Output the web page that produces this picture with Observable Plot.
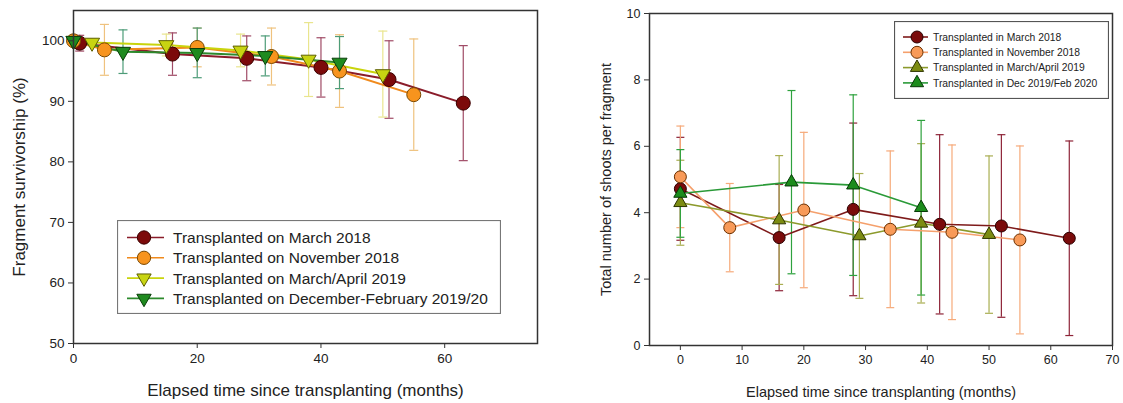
<!DOCTYPE html>
<html>
<head>
<meta charset="utf-8">
<script src="https://cdn.jsdelivr.net/npm/d3@7"></script>
<script src="https://cdn.jsdelivr.net/npm/@observablehq/plot@0.6"></script>
<style>
  html, body { margin: 0; padding: 0; background: #fff; }
  #wrap { position: relative; width: 1123px; height: 403px; overflow: hidden; background: #fff; font-family: "Liberation Sans", Arial, sans-serif; }
  #left, #right { position: absolute; top: 0; }
  #left { left: 0; }
  #right { left: 560px; }
  .legend { position: absolute; background: #fff; }
</style>
</head>
<body>
<div id="wrap">
  <div id="left"></div>
  <div id="right"></div>
</div>
<script>
// ---------------- Left panel: fragment survivorship (%) ----------------
const seriesLeft = ["Transplanted on March 2018", "Transplanted on November 2018", "Transplanted on March/April 2019", "Transplanted on December-February 2019/20"];
const survMar18Months = [1, 16, 28, 40, 51, 63];
const survMar18Values = [99.6, 97.8, 97.1, 95.6, 93.6, 89.7];
const survMar18Err    = [1.3, 3.5, 3.7, 4.9, 6.4, 9.5];
const survNov18Months = [0, 5, 20, 32, 43, 55];
const survNov18Values = [100, 98.5, 98.9, 97.4, 95.0, 91.1];
const survNov18Err    = [0, 4.2, 3.2, 4.7, 6.0, 9.2];
const survMar19Months = [0, 3, 15, 27, 38, 50];
const survMar19Values = [100, 99.7, 99.3, 98.4, 96.9, 94.5];
const survMar19Err    = [0, 0.6, 1.8, 2.7, 6.1, 7.1];
const survDec19Months = [0, 8, 20, 31, 43];
const survDec19Values = [100, 98.2, 98.0, 97.5, 96.4];
const survDec19Err    = [0, 3.6, 4.1, 3.3, 4.3];
const leftXTicks = [0, 20, 40, 60];
const leftYTicks = [50, 60, 70, 80, 90, 100];

// ---------------- Right panel: shoots per fragment ----------------
const seriesRight = ["Transplanted in March 2018", "Transplanted in November 2018", "Transplanted in March/April 2019", "Transplanted in Dec 2019/Feb 2020"];
const shootMar18Months = [0, 16, 28, 42, 52, 63];
const shootMar18Values = [4.72, 3.25, 4.10, 3.65, 3.60, 3.23];
const shootMar18Err    = [1.55, 1.6, 2.6, 2.7, 2.75, 2.93];
const shootNov18Months = [0, 8, 20, 34, 44, 55];
const shootNov18Values = [5.08, 3.55, 4.08, 3.50, 3.41, 3.18];
const shootNov18Err    = [1.53, 1.33, 2.34, 2.36, 2.63, 2.83];
const shootMar19Months = [0, 16, 29, 39, 50];
const shootMar19Values = [4.30, 3.78, 3.30, 3.68, 3.34];
const shootMar19Err    = [1.28, 1.94, 1.88, 2.40, 2.37];
const shootDec19Months = [0, 18, 28, 39];
const shootDec19Values = [4.58, 4.92, 4.83, 4.15];
const shootDec19Err    = [1.32, 2.76, 2.72, 2.63];
const rightXTicks = [0, 10, 20, 30, 40, 50, 60, 70];
const rightYTicks = [0, 2, 4, 6, 8, 10];

function rows(months, values, errs) {
  return months.map((m, i) => ({m, v: values[i], e: errs[i]}));
}

const capSymbol = (hw) => ({ draw(ctx) { ctx.moveTo(-hw, 0); ctx.lineTo(hw, 0); } });

const FONT = '"Liberation Sans", Arial, sans-serif';

function seriesMarks(data, st, capHW) {
  const withErr = data.filter(d => d.e > 0);
  return [
    Plot.ruleX(withErr, {x: "m", y1: d => d.v - d.e, y2: d => d.v + d.e, stroke: st.err, strokeWidth: 1.2}),
    Plot.dot(withErr, {x: "m", y: d => d.v + d.e, symbol: capSymbol(capHW), r: 1, stroke: st.err, strokeWidth: 1.2, fill: "none"}),
    Plot.dot(withErr, {x: "m", y: d => d.v - d.e, symbol: capSymbol(capHW), r: 1, stroke: st.err, strokeWidth: 1.2, fill: "none"})
  ];
}
function seriesLine(data, st) {
  return Plot.line(data, {x: "m", y: "v", stroke: st.line, strokeWidth: st.lw || 2});
}
function seriesDots(data, st) {
  return Plot.dot(data, {x: "m", y: "v", symbol: st.symbol, rotate: st.rotate || 0, r: st.r, fill: st.fill, stroke: st.stroke, strokeWidth: 1});
}

// ---- left styles
const stL = [
  {line: "#8a1c2a", err: "#a04b66", fill: "#7c0a0a", stroke: "#3a0000", symbol: "circle", r: 7},
  {line: "#f08a1c", err: "#efc27e", fill: "#f7941e", stroke: "#7a4800", symbol: "circle", r: 7},
  {line: "#c9d40c", err: "#e9e58e", fill: "#c8d412", stroke: "#5e6000", symbol: "triangle", rotate: 180, r: 5.6},
  {line: "#2c8a2c", err: "#4d9c78", fill: "#1f8a1f", stroke: "#0a3f0a", symbol: "triangle", rotate: 180, r: 5.6}
];
const dataL = [
  rows(survMar18Months, survMar18Values, survMar18Err),
  rows(survNov18Months, survNov18Values, survNov18Err),
  rows(survMar19Months, survMar19Values, survMar19Err),
  rows(survDec19Months, survDec19Values, survDec19Err)
];

const left = Plot.plot({
  width: 560, height: 403,
  marginLeft: 73, marginRight: 23, marginTop: 10, marginBottom: 60,
  style: {fontFamily: FONT, fontSize: "13.5px", color: "#222", background: "white"},
  x: {domain: [0, 75]},
  y: {domain: [50, 105]},
  marks: [
    ...dataL.flatMap((d, i) => seriesMarks(d, stL[i], 4.5)),
    ...dataL.map((d, i) => seriesLine(d, stL[i])),
    ...dataL.map((d, i) => seriesDots(d, stL[i])),
    Plot.frame({stroke: "#333", strokeWidth: 1.5}),
    Plot.axisX({ticks: leftXTicks, tickSize: 5, tickPadding: 5, label: null, stroke: "#333"}),
    Plot.axisY({ticks: leftYTicks, tickSize: 5, tickPadding: 4, label: null, stroke: "#333"}),
    Plot.text(["Elapsed time since transplanting (months)"], {text: d => d, frameAnchor: "bottom", textAnchor: "middle", lineAnchor: "middle", dy: 47, fontSize: 17, fill: "#222"}),
    Plot.text(["Fragment survivorship (%)"], {text: d => d, frameAnchor: "left", textAnchor: "middle", lineAnchor: "middle", rotate: -90, dx: -54, fontSize: 17, fill: "#222"})
  ]
});
document.getElementById("left").appendChild(left);

// ---- right styles
const stR = [
  {line: "#7e1a1a", err: "#8e2438", fill: "#7a0b0b", stroke: "#2a0000", symbol: "circle", r: 6, lw: 1.6},
  {line: "#f5a06c", err: "#f6aa7a", fill: "#f89a58", stroke: "#6a3000", symbol: "circle", r: 6, lw: 1.6},
  {line: "#8c9a2c", err: "#a9ae52", fill: "#7c8c12", stroke: "#2e3400", symbol: "triangle", r: 4.9, lw: 1.6},
  {line: "#2a9a38", err: "#2ea23e", fill: "#1c8c1c", stroke: "#063806", symbol: "triangle", r: 4.9, lw: 1.6}
];
const dataR = [
  rows(shootMar18Months, shootMar18Values, shootMar18Err),
  rows(shootNov18Months, shootNov18Values, shootNov18Err),
  rows(shootMar19Months, shootMar19Values, shootMar19Err),
  rows(shootDec19Months, shootDec19Values, shootDec19Err)
];

const right = Plot.plot({
  width: 563, height: 403,
  marginLeft: 89, marginRight: 11, marginTop: 13, marginBottom: 58,
  style: {fontFamily: FONT, fontSize: "12.5px", color: "#222", background: "white"},
  x: {domain: [-5, 70]},
  y: {domain: [0, 10]},
  marks: [
    ...dataR.flatMap((d, i) => seriesMarks(d, stR[i], 4)),
    ...dataR.map((d, i) => seriesLine(d, stR[i])),
    ...dataR.map((d, i) => seriesDots(d, stR[i])),
    Plot.frame({stroke: "#333", strokeWidth: 1.5}),
    Plot.axisX({ticks: rightXTicks, tickSize: 5, tickPadding: 5, label: null, stroke: "#333"}),
    Plot.axisY({ticks: rightYTicks, tickSize: 5, tickPadding: 4, label: null, stroke: "#333"}),
    Plot.text(["Elapsed time since transplanting (months)"], {text: d => d, frameAnchor: "bottom", textAnchor: "middle", lineAnchor: "middle", dy: 47, fontSize: 14.5, fill: "#222"}),
    Plot.text(["Total number of shoots per fragment"], {text: d => d, frameAnchor: "left", textAnchor: "middle", lineAnchor: "middle", rotate: -90, dx: -43, fontSize: 14.5, fill: "#222"})
  ]
});
document.getElementById("right").appendChild(right);

// ---------------- Legends (HTML/SVG overlays) ----------------
function legend(opts) {
  const {x, y, w, h, rowY0, rowStep, lx1, lx2, mx, tx, fontSize, labels, styles, sizeScale, border, family, squeeze} = opts;
  const svg = d3.select("#wrap").append("svg")
    .attr("class", "legend")
    .attr("width", w).attr("height", h)
    .style("left", x + "px").style("top", y + "px");
  svg.append("rect").attr("x", 0.5).attr("y", 0.5).attr("width", w - 1).attr("height", h - 1)
    .attr("fill", "#fff").attr("stroke", border).attr("stroke-width", 1.2);
  labels.forEach((lab, i) => {
    const st = styles[i];
    const cy = rowY0 + i * rowStep;
    svg.append("line").attr("x1", lx1).attr("x2", lx2).attr("y1", cy).attr("y2", cy)
      .attr("stroke", st.line).attr("stroke-width", 1.6);
    const sym = st.symbol === "circle" ? d3.symbolCircle : d3.symbolTriangle;
    const r = st.r * sizeScale;
    svg.append("path").attr("d", d3.symbol(sym, Math.PI * r * r)())
      .attr("transform", `translate(${mx},${cy}) rotate(${st.rotate || 0})`)
      .attr("fill", st.fill).attr("stroke", st.stroke).attr("stroke-width", 1);
    svg.append("text").attr("transform", `translate(${tx},${cy}) scale(${squeeze},1)`).attr("dy", "0.35em")
      .attr("font-family", family).attr("font-size", fontSize).attr("fill", "#222").text(lab);
  });
}

legend({x: 117, y: 220, w: 384, h: 94, rowY0: 17.5, rowStep: 20.3, lx1: 10, lx2: 47, mx: 27, tx: 56,
  fontSize: 15.5, labels: seriesLeft, styles: stL, sizeScale: 0.95, border: "#777", family: FONT, squeeze: 1});
legend({x: 894, y: 21, w: 215, h: 78, rowY0: 16, rowStep: 15.3, lx1: 9, lx2: 34, mx: 23, tx: 39,
  fontSize: 11, labels: seriesRight, styles: stR, sizeScale: 1.0, border: "#555", family: FONT, squeeze: 0.94});
</script>
</body>
</html>
